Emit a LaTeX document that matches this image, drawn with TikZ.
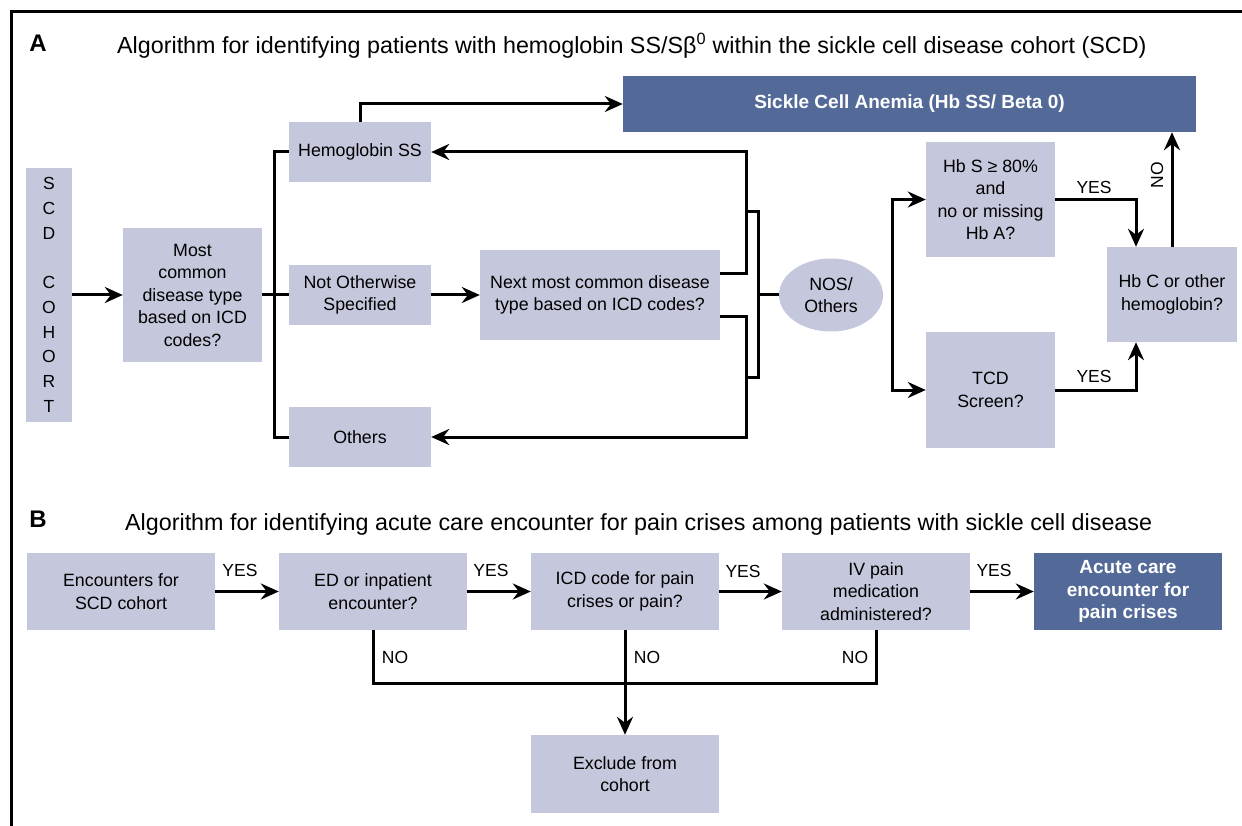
\documentclass[tikz,border=0pt]{standalone}
\usepackage{fontspec}
\setmainfont{Liberation Sans}
\usetikzlibrary{arrows.meta,shapes.geometric}
\definecolor{boxgray}{RGB}{197,200,220}
\definecolor{boxblue}{RGB}{83,106,153}
\newcommand\boxfont{\fontsize{17.8}{22.5}\selectfont}
\newcommand\boldfont{\fontsize{19}{22.5}\selectfont\bfseries}
\newcommand\lblfont{\fontsize{17.5}{20}\selectfont}
\newcommand\ttlfont{\fontsize{23.3}{27}\selectfont}
\newcommand\pnlfont{\fontsize{24}{28}\selectfont\bfseries}
\newcommand\scdfont{\fontsize{17.5}{24.7}\selectfont}

\begin{document}
\begin{tikzpicture}[x=1pt, y=-1pt,
    box/.style={fill=boxgray, inner sep=0pt, align=center, font=\boxfont},
    darkbox/.style={fill=boxblue, text=white, inner sep=0pt, align=center, font=\boldfont},
    line/.style={line width=3pt},
    arr/.style={line, -{Stealth[length=18pt,width=16pt,inset=6pt]}},
    lbl/.style={font=\lblfont, inner sep=0pt},
    ttl/.style={font=\ttlfont, inner sep=0pt, anchor=west},
    pnl/.style={font=\pnlfont, inner sep=0pt}]
  \useasboundingbox (0,0) rectangle (1242,826);

  % Frame
  \draw[line width=3pt] (11,826) -- (11,12) -- (1242,12);

  %%%%%%%%%%%%%%%%%%%%%%%%%%%%%%%%%%%%%%%%%%%%%%
  % A: Hb SS / S-beta-0 algorithm
  %%%%%%%%%%%%%%%%%%%%%%%%%%%%%%%%%%%%%%%%%%%%%%
  \begin{scope}
    \node[pnl] (pa) at (38,43) {A};
    \node[ttl] (tta) at (117,46) {Algorithm for identifying patients with hemoglobin SS/Sβ\textsuperscript{0} within the sickle cell disease cohort (SCD)};

    % Boxes
    \node[box, minimum width=46pt, minimum height=254pt, font=\scdfont] (scd) at (49,295) {S\\C\\D\\[24.7pt]C\\O\\H\\O\\R\\T};
    \node[box, minimum width=139pt, minimum height=133pt] (most) at (192.5,295) {Most\\common\\disease type\\based on ICD\\codes?};
    \node[box, minimum width=142pt, minimum height=60pt] (hbss) at (360,152) {Hemoglobin SS};
    \node[box, minimum width=142pt, minimum height=60pt] (nos) at (360,295) {Not Otherwise\\Specified};
    \node[box, minimum width=142pt, minimum height=60pt] (others) at (360,437) {Others};
    \node[box, minimum width=240pt, minimum height=90pt] (next) at (600,295) {Next most common disease\\type based on ICD codes?};
    \node[darkbox, minimum width=573pt, minimum height=56pt] (sickle) at (909.5,104) {Sickle Cell Anemia (Hb SS/ Beta 0)};
    \node[box, ellipse, minimum width=104pt, minimum height=73pt] (nosell) at (831,295) {NOS/\\Others};
    \node[box, minimum width=129pt, minimum height=115pt] (hbs) at (990.5,199.5) {Hb S ≥ 80\%\\and\\no or missing\\Hb A?};
    \node[box, minimum width=129pt, minimum height=116pt] (tcd) at (990.5,390) {TCD\\Screen?};
    \node[box, minimum width=130pt, minimum height=95pt] (hbc) at (1172,294.5) {Hb C or other\\hemoglobin?};

    % Connectors
    \coordinate (split) at (274,295);
    \coordinate (brtop) at (746,212);
    \coordinate (brbot) at (746,377);
    \coordinate (fork) at (892,295);
    \draw[arr] (scd.east) -- (most.west);
    \draw[line] (most.east) -- (nos.west);
    \draw[line] (hbss.west) -| (split) |- (others.west);
    \draw[arr] (nos.east) -- (next.west);
    \draw[arr] (hbss.north) |- (sickle.west);
    \draw[arr] ([yshift=-24pt]next.north east) -- ++(26,0) |- (hbss.east);
    \draw[arr] ([yshift=24pt]next.south east) -- ++(26,0) |- (others.east);
    \draw[line] (brtop) -| ([xshift=12pt]brbot) -- (brbot);
    \draw[line] (nosell.west) -- ++(-21,0);
    \draw[arr] (fork) |- (hbs.west);
    \draw[arr] (fork) |- (tcd.west);
    \draw[arr] (hbs.east) -| ([xshift=-36pt]hbc.north);
    \draw[arr] (tcd.east) -| ([xshift=-36pt]hbc.south);
    \draw[arr] (hbc.north) -- (hbc.north |- sickle.south);

    % Labels
    \node[lbl] (yesa) at (1094,187) {YES};
    \node[lbl] (yesb) at (1094,376) {YES};
    \node[lbl, rotate=90] (noa) at (1157,175) {NO};
  \end{scope}

  %%%%%%%%%%%%%%%%%%%%%%%%%%%%%%%%%%%%%%%%%%%%%%
  % B: acute care encounters for pain crises
  %%%%%%%%%%%%%%%%%%%%%%%%%%%%%%%%%%%%%%%%%%%%%%
  \begin{scope}
    \node[pnl] (pb) at (38,519) {B};
    \node[ttl] (ttb) at (125,524) {Algorithm for identifying acute care encounter for pain crises among patients with sickle cell disease};

    % Boxes
    \node[box, minimum width=188pt, minimum height=77pt] (enc) at (121,591.5) {Encounters for\\SCD cohort};
    \node[box, minimum width=188pt, minimum height=77pt] (ed) at (373,591.5) {ED or inpatient\\encounter?};
    \node[box, minimum width=188pt, minimum height=77pt] (icd) at (625,591.5) {ICD code for pain\\crises or pain?};
    \node[box, minimum width=188pt, minimum height=77pt] (iv) at (876,591.5) {IV pain\\medication\\administered?};
    \node[darkbox, minimum width=188pt, minimum height=77pt] (acute) at (1128,591.5) {Acute care\\encounter for\\pain crises};
    \node[box, minimum width=188pt, minimum height=78pt] (exc) at (625,774) {Exclude from\\cohort};

    % Connectors
    \draw[arr] (enc) -- (ed);
    \draw[arr] (ed) -- (icd);
    \draw[arr] (icd) -- (iv);
    \draw[arr] (iv) -- (acute);
    \draw[line] (ed.south) -- ++(0,53) -| (iv.south);
    \draw[arr] (icd.south) -- (exc.north);

    % Labels
    \node[lbl] (yes1) at (240,570) {YES};
    \node[lbl] (yes2) at (491,570) {YES};
    \node[lbl] (yes3) at (743,571) {YES};
    \node[lbl] (yes4) at (994,570) {YES};
    \node[lbl] (no1) at (395,657) {NO};
    \node[lbl] (no2) at (647,657) {NO};
    \node[lbl] (no3) at (855,657) {NO};
  \end{scope}
\end{tikzpicture}
\end{document}
